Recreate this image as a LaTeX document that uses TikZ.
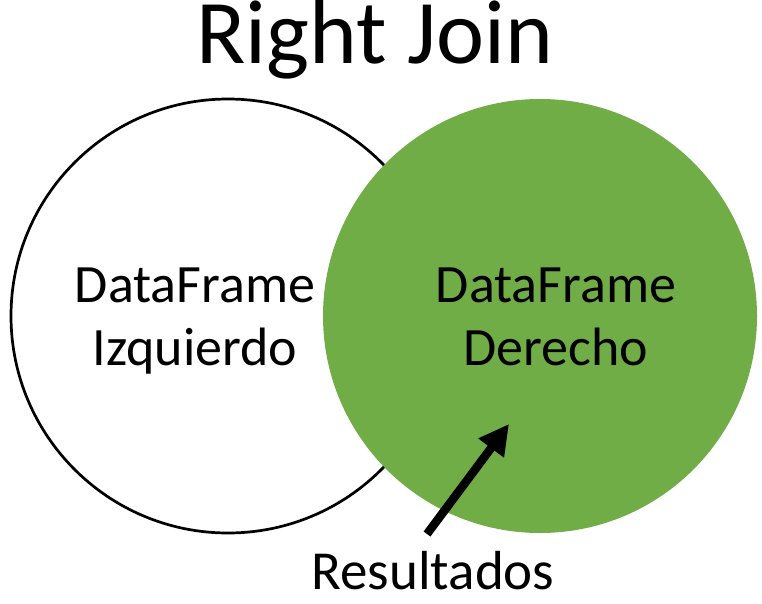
\documentclass[tikz,border=0pt]{standalone}
\usepackage{fontspec}
\setmainfont{Carlito}
\usetikzlibrary{arrows.meta,positioning}

\definecolor{joingreen}{HTML}{70AD47}

\begin{document}
\begin{tikzpicture}[
    x=1pt, y=1pt,
    set/.style={circle, minimum size=434pt, inner sep=0pt},
    label/.style={align=center, anchor=base, font=\fontsize{54}{63}\selectfont}
]
    \useasboundingbox (0,0) rectangle (762,-604);

    \node[set, draw=black, line width=2.7pt] (izq) at (228,-316) {};
    \node[set, fill=joingreen] (der) at (540,-316) {};

    \node[font=\fontsize{91}{100}\selectfont, anchor=base, inner sep=0pt, text height=57pt] (title) at (375,-64) {Right Join};

    \node[label] (izqtxt) at (195,-365) {DataFrame\\Izquierdo};
    \node[label] (dertxt) at (556,-365) {DataFrame\\Derecho};

    \node[font=\fontsize{55}{60}\selectfont, anchor=base] (res) at (433,-589) {Resultados};

    \coordinate (tail) at (427,-534);
    \coordinate (tip) at (509,-424);
    \draw[line width=8.5pt, -{Triangle[width=30pt,length=30pt]}] (tail) -- (tip);
\end{tikzpicture}
\end{document}
